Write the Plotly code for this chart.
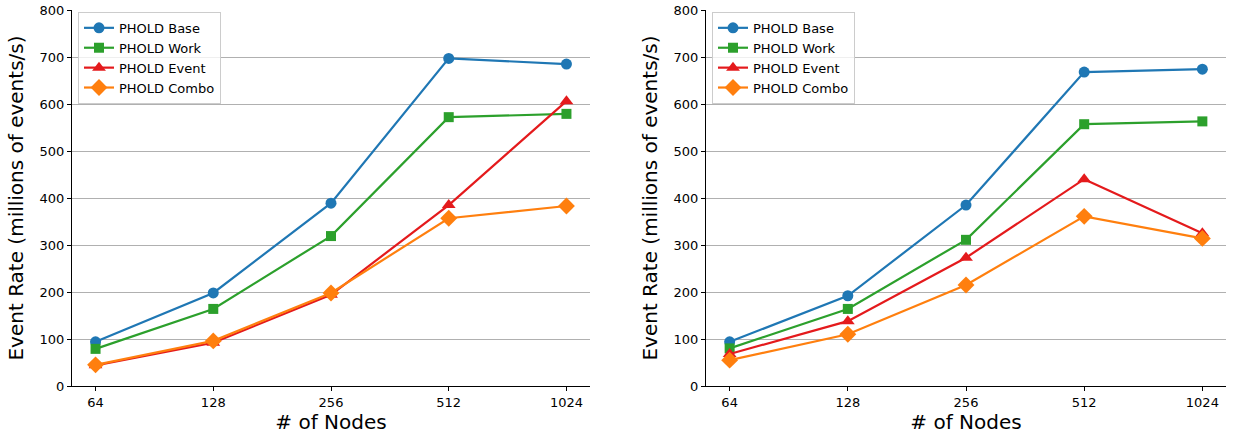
import plotly.graph_objects as go
import math

nodes = [64, 128, 256, 512, 1024]
node_labels = ["64", "128", "256", "512", "1024"]

left_base = [94, 198, 389, 697, 685]
left_work = [79, 164, 319, 572, 579]
left_event = [44, 92, 194, 385, 606]
left_combo = [45, 96, 198, 357, 383]

right_base = [94, 192, 385, 668, 674]
right_work = [80, 164, 311, 557, 563]
right_event = [68, 138, 273, 440, 325]
right_combo = [55, 110, 215, 361, 314]

names = ["PHOLD Base", "PHOLD Work", "PHOLD Event", "PHOLD Combo"]
colors = ["#1f77b4", "#2ca02c", "#e41a1c", "#ff7f0e"]
symbols = ["circle", "square", "triangle-up", "diamond"]
msizes = [11, 10, 12, 13]

W, H = 1235, 436

fig = go.Figure()

panels = [
    ([left_base, left_work, left_event, left_combo], "x", "y", "legend"),
    ([right_base, right_work, right_event, right_combo], "x2", "y2", "legend2"),
]
for series, xa, ya, lg in panels:
    for vals, name, c, s, ms in zip(series, names, colors, symbols, msizes):
        fig.add_trace(go.Scatter(
            x=nodes, y=vals, name=name, mode="lines+markers",
            line=dict(color=c, width=2.2),
            marker=dict(symbol=s, size=ms, color=c),
            xaxis=xa, yaxis=ya, legend=lg,
        ))

xrange = [math.log10(2 ** 5.8), math.log10(2 ** 10.2)]
xcommon = dict(
    type="log", range=xrange, tickvals=nodes, ticktext=node_labels,
    showgrid=False, showline=True, linecolor="black", linewidth=1,
    ticks="outside", ticklen=4, tickcolor="black",
    tickfont=dict(family="DejaVu Sans", size=13, color="black"),
    title=dict(text="# of Nodes", font=dict(family="DejaVu Sans", size=20, color="black"), standoff=4),
    zeroline=False, automargin=False, ticklabeloverflow="allow",
)
ycommon = dict(
    range=[0, 800], dtick=100, tick0=0,
    showgrid=True, gridcolor="#b0b0b0", gridwidth=1,
    showline=True, linecolor="black", linewidth=1,
    ticks="outside", ticklen=4, tickcolor="black",
    tickfont=dict(family="DejaVu Sans", size=13, color="black"),
    title=dict(text="Event Rate (millions of events/s)", font=dict(family="DejaVu Sans", size=20, color="black"), standoff=10),
    zeroline=False, automargin=False, ticklabeloverflow="allow",
)

legcommon = dict(
    bgcolor="rgba(255,255,255,0.8)", bordercolor="#cccccc", borderwidth=1,
    font=dict(family="DejaVu Sans", size=13, color="black"),
    xanchor="left", yanchor="top", tracegroupgap=0, itemwidth=30,
)

fig.update_layout(
    width=W, height=H,
    margin=dict(l=0, r=0, t=10, b=50, autoexpand=False),
    paper_bgcolor="white", plot_bgcolor="white",
    xaxis=dict(domain=[72 / W, 590 / W], anchor="y", **xcommon),
    yaxis=dict(domain=[0, 1], anchor="x", **ycommon),
    xaxis2=dict(domain=[706 / W, 1226 / W], anchor="y2", **xcommon),
    yaxis2=dict(domain=[0, 1], anchor="x2", **ycommon),
    legend=dict(x=78 / W, y=0.995, **legcommon),
    legend2=dict(x=712 / W, y=0.995, **legcommon),
    showlegend=True,
)

# remove the page's default 8px body margin so the figure fills the window exactly
fig.write_html(
    "out.html",
    config={"displayModeBar": False},
    post_script="document.body.style.margin='0';",
)
